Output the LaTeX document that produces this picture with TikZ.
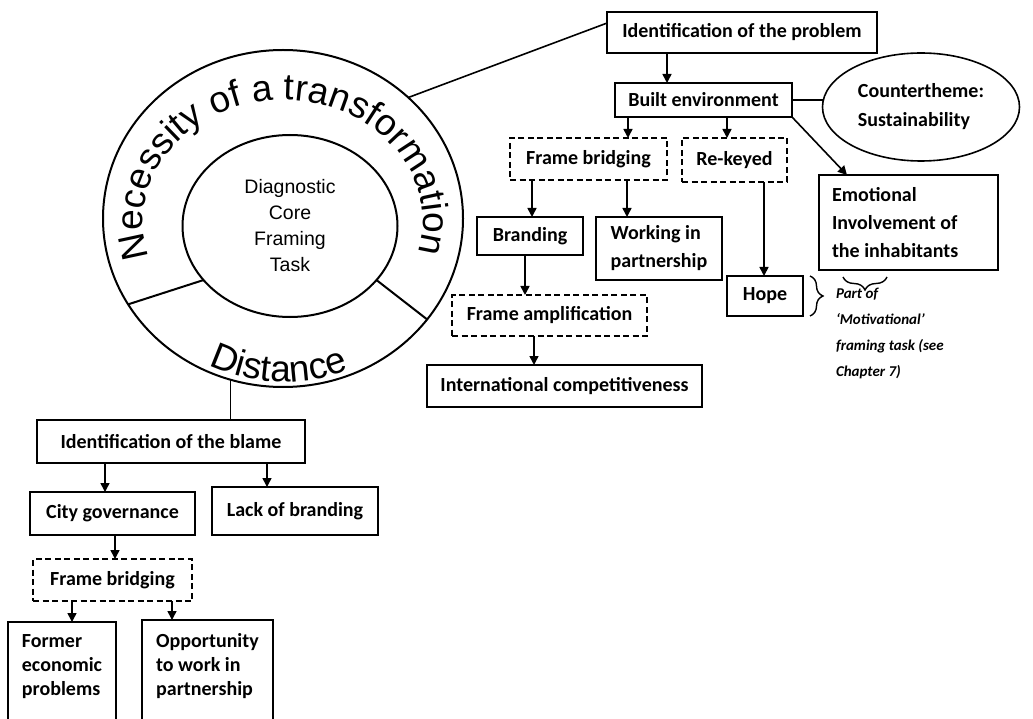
\documentclass[tikz,border=0pt]{standalone}
\usepackage{fontspec}
\setmainfont{Carlito}
\newfontfamily\arialfont{Liberation Sans}
\usetikzlibrary{arrows.meta,shapes.geometric,decorations.text,decorations.pathreplacing,calc}

\begin{document}
\begin{tikzpicture}[x=1pt,y=1pt,
  every node/.style={inner sep=0pt, outer sep=0pt},
  boxtext/.style={font=\fontsize{20}{28}\selectfont\bfseries},
  solidbox/.style={draw, rectangle, line width=1.6pt, boxtext},
  dashbox/.style={solidbox, dash pattern=on 6pt off 3.5pt},
  cuttext/.style={font=\fontsize{20}{24}\selectfont\bfseries, anchor=north, align=left, inner ysep=13pt},
  arr/.style={-{Triangle[length=9pt,width=9pt]}, line width=1.6pt},
  link/.style={line width=1.6pt},
  ringline/.style={line width=2pt},
  brc/.style={decorate, decoration={brace, amplitude=13pt}, line width=1.4pt},
  ringtext/.style={decorate, decoration={text along path, text align=center,
    text={|\arialfont\fontsize{37}{37}\selectfont|#1}}},
]
\clip (0,0) rectangle (1033,-719);
\fill[white] (0,0) rectangle (1033,-719);

% the diagnostic ring
\node[draw, ellipse, ringline, minimum width=360pt, minimum height=337pt] (ring) at (283,-218.5) {};
\node[draw, ellipse, ringline, minimum width=215pt, minimum height=182pt, align=center,
      font=\arialfont\fontsize{19.5}{26}\selectfont] (core) at (290,-226) {Diagnostic\\Core\\Framing\\Task};
\draw[ringline] (ring.209) -- (core.212);
\draw[ringline] (core.328) -- (ring.325);
\path[ringtext={Necessity of a transformation}]
  ([shift={(283,-222)}]201:140 and 122) arc[start angle=201, end angle=-19, x radius=140, y radius=122];
\path[ringtext={Distance}]
  ([shift={(284,-222)}]226:165 and 160) arc[start angle=226, end angle=310, x radius=165, y radius=160];

% problem branch
\node[solidbox, minimum width=270pt, minimum height=41pt] (prob) at (742,-32.5) {Identification of the problem};
\node[solidbox, minimum width=177pt, minimum height=34pt] (built) at (703.5,-100) {Built environment};
\node[draw, ellipse, line width=1.6pt, font=\fontsize{20}{29}\selectfont\bfseries, align=left,
      minimum width=197pt, minimum height=108pt] (counter) at (921,-107) {Countertheme:\\Sustainability};
\node[dashbox, minimum width=157pt, minimum height=42pt] (fbA) at (588.5,-159) {Frame bridging};
\node[dashbox, minimum width=105pt, minimum height=44pt] (rekey) at (734.5,-160) {Re-keyed};
\node[solidbox, minimum width=179pt, minimum height=95pt, text width=153pt, align=flush left] (emo) at (908.5,-222.5)
  {Emotional\\Involvement of\\the inhabitants};
\node[solidbox, minimum width=106pt, minimum height=38pt] (brand) at (530,-236) {Branding};
\node[solidbox, minimum width=126pt, minimum height=63pt, align=left] (work) at (659,-248.5) {Working in\\partnership};
\node[solidbox, minimum width=76pt, minimum height=40pt] (hope) at (765,-296) {Hope};
\node[dashbox, minimum width=195pt, minimum height=41pt] (famp) at (549.5,-315.5) {Frame amplification};
\node[solidbox, minimum width=275pt, minimum height=42pt] (intl) at (564.5,-386) {International competitiveness};
\node[anchor=north west, align=left, font=\fontsize{15}{26}\selectfont\bfseries\itshape] (note) at (836,-288)
  {Part of\\‘Motivational’\\framing task (see\\Chapter 7)};

\draw[link] (ring.44) -- (prob.176);
\draw[arr] (prob.south -| 667,0) -- (built.north -| 667,0);
\draw[link] (built.east) -- (built.east -| counter.west);
\draw[arr] (built.south -| 628,0) -- (fbA.north -| 628,0);
\draw[arr] (built.south -| 727,0) -- (rekey.north -| 727,0);
\draw[arr] (built.south east) -- ($(emo.north west)+(28,0)$);
\draw[arr] (fbA.south -| 532,0) -- (brand.north -| 532,0);
\draw[arr] (fbA.south -| 627,0) -- (work.north -| 627,0);
\draw[arr] (rekey.south -| 764,0) -- (hope.north -| 764,0);
\draw[arr] (brand.south -| 525,0) -- (famp.north -| 525,0);
\draw[arr] (famp.south -| 534,0) -- (intl.north -| 534,0);
\draw[brc] ($(hope.north east)+(7,0)$) -- ($(hope.south east)+(7,0)$);
\draw[brc] ($(emo.south west)+(68,-7)$) -- ($(emo.south west)+(24,-7)$);

% blame branch
\node[solidbox, minimum width=268pt, minimum height=43pt] (blame) at (171,-441.5) {Identification of the blame};
\node[solidbox, minimum width=165pt, minimum height=43pt] (city) at (112.5,-513.5) {City governance};
\node[solidbox, minimum width=166pt, minimum height=48pt] (lack) at (295,-511) {Lack of branding};
\node[dashbox, minimum width=159pt, minimum height=42pt] (fbB) at (112.5,-580) {Frame bridging};
\node[cuttext, minimum width=108pt] (former) at (62,-622) {Former\\economic\\problems};
\node[cuttext, minimum width=131pt] (opp) at (207.5,-620) {Opportunity\\to work in\\partnership};
\draw[link] (former.north west) rectangle (former.east |- 0,-740);
\draw[link] (opp.north west) rectangle (opp.east |- 0,-740);

\draw[link] (ring.252) -- (ring.252 |- blame.north);
\draw[arr] (blame.south -| 105,0) -- (city.north -| 105,0);
\draw[arr] (blame.south -| 267,0) -- (lack.north -| 267,0);
\draw[arr] (city.south -| 115,0) -- (fbB.north -| 115,0);
\draw[arr] (fbB.south -| 72,0) -- (former.north -| 72,0);
\draw[arr] (fbB.south -| 172,0) -- (opp.north -| 172,0);
\end{tikzpicture}
\end{document}
